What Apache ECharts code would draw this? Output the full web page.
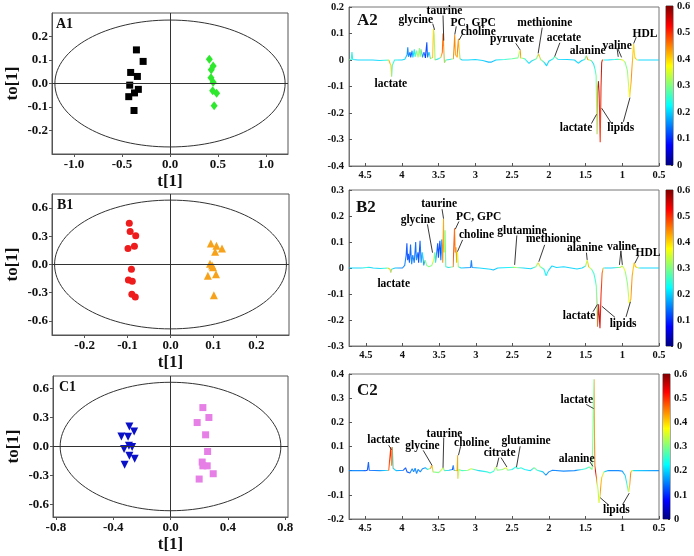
<!DOCTYPE html>
<html><head><meta charset="utf-8">
<script src="https://cdn.jsdelivr.net/npm/echarts@6/dist/echarts.min.js"></script>
<style>html,body{margin:0;padding:0;background:#fff}#c{width:694px;height:556px}</style>
</head><body><div id="c"></div>
<script>
// ---------------- DATA ----------------
// A1 scores
const a1BlackT  = [-0.35,-0.28,-0.41,-0.34,-0.42,-0.33,-0.37,-0.43,-0.375];
const a1BlackTo = [0.143,0.094,0.047,0.03,-0.007,-0.025,-0.04,-0.056,-0.115];
const a1GreenT  = [0.41,0.45,0.43,0.427,0.45,0.445,0.486,0.46];
const a1GreenTo = [0.103,0.075,0.059,0.025,0.005,-0.031,-0.042,-0.095];
// B1 scores
const b1RedT  = [-0.096,-0.094,-0.081,-0.084,-0.099,-0.091,-0.098,-0.089,-0.09,-0.082];
const b1RedTo = [0.44,0.35,0.305,0.195,0.171,-0.05,-0.164,-0.178,-0.317,-0.346];
const b1OrangeT  = [0.094,0.107,0.12,0.104,0.092,0.099,0.097,0.087,0.106,0.101];
const b1OrangeTo = [0.224,0.199,0.171,0.135,0.007,-0.028,-0.01,-0.121,-0.104,-0.328];
// C1 scores
const c1BlueT  = [-0.287,-0.254,-0.343,-0.296,-0.29,-0.324,-0.268,-0.287,-0.25,-0.32];
const c1BlueTo = [0.207,0.155,0.103,0.1,0.007,-0.027,-0.006,-0.096,-0.127,-0.19];
const c1PinkT  = [0.226,0.268,0.186,0.245,0.259,0.221,0.226,0.256,0.298,0.2];
const c1PinkTo = [0.403,0.3,0.248,0.121,-0.052,-0.161,-0.2,-0.2,-0.282,-0.337];
// confidence ellipse semi-axes [t, to]
const a1Ellipse = [1.2, 0.27];
const b1Ellipse = [0.27, 0.685];
const c1Ellipse = [0.77, 0.665];
// score tick labels
const a1XTicks = [-1, -0.5, 0, 0.5, 1];
const a1YTicks = [-0.2, -0.1, 0, 0.1, 0.2];
const b1XTicks = [-0.2, -0.1, 0, 0.1, 0.2];
const b1YTicks = [-0.6, -0.3, 0, 0.3, 0.6];
const c1XTicks = [-0.8, -0.4, 0, 0.4, 0.8];
const c1YTicks = [-0.6, -0.3, 0, 0.3, 0.6];

// A2 loadings: ppm, loading, |r|
const a2Ppm  = [4.72,4.69,4.68,4.67,4.60,4.40,4.30,4.18,4.15,4.14,4.13,4.10,4.00,3.96,3.93,3.92,3.91,3.89,3.88,3.86,3.85,3.83,3.82,3.80,3.78,3.76,3.75,3.74,3.72,3.70,3.68,3.66,3.65,3.63,3.61,3.58,3.57,3.56,3.55,3.50,3.47,3.45,3.44,3.43,3.42,3.40,3.35,3.30,3.28,3.27,3.25,3.23,3.21,3.18,3.10,3.00,2.90,2.82,2.78,2.72,2.60,2.50,2.42,2.40,2.39,2.38,2.33,2.27,2.24,2.17,2.14,2.11,2.06,2.03,2.00,1.94,1.92,1.88,1.75,1.65,1.60,1.55,1.51,1.49,1.47,1.42,1.39,1.37,1.355,1.345,1.335,1.325,1.315,1.30,1.29,1.28,1.27,1.20,1.10,1.06,1.05,1.03,1.01,0.99,0.96,0.93,0.90,0.88,0.86,0.845,0.83,0.80,0.50];
const a2Load = [0,0.002,0.03,0.002,0,0,-0.002,0,-0.02,-0.063,-0.02,0,0,0.003,0.02,0.048,0.012,0.03,0.01,0.035,0.01,0.04,0.012,0.035,0.01,0.045,0.012,0.04,0.01,0.03,0.008,0.067,0.01,0.03,0.005,0.01,0.118,0.095,0,0.005,0.01,0.03,0.1,0.05,-0.01,0,0.002,0.005,0.095,0.02,0.01,0.08,0.005,0,0,0.002,-0.002,-0.008,-0.008,0,0.002,0.005,0.008,0.01,0.038,0.008,0.005,-0.013,-0.005,0.005,0.023,0.002,-0.01,-0.022,-0.005,0.005,0.013,0.003,0.002,0,-0.012,-0.002,0.002,0.016,0.002,-0.003,-0.015,-0.035,-0.06,-0.28,-0.1,-0.08,-0.12,-0.31,-0.1,-0.01,0,0,0.002,0.003,0.01,0.002,0.008,0,-0.01,-0.04,-0.14,-0.08,0,0.06,0.01,0,0];
const a2Corr = [0.2,0.25,0.3,0.25,0.2,0.2,0.2,0.25,0.4,0.45,0.4,0.25,0.2,0.2,0.2,0.2,0.15,0.15,0.15,0.12,0.12,0.2,0.2,0.25,0.3,0.35,0.3,0.3,0.3,0.15,0.15,0.08,0.1,0.15,0.2,0.35,0.42,0.42,0.35,0.2,0.25,0.42,0.47,0.47,0.45,0.3,0.2,0.3,0.47,0.45,0.4,0.47,0.4,0.2,0.2,0.2,0.2,0.18,0.18,0.2,0.25,0.28,0.3,0.35,0.45,0.35,0.25,0.2,0.2,0.3,0.42,0.3,0.2,0.2,0.2,0.25,0.3,0.2,0.2,0.2,0.2,0.2,0.3,0.45,0.35,0.2,0.25,0.3,0.45,0.58,0.55,0.5,0.5,0.58,0.5,0.3,0.22,0.2,0.25,0.3,0.4,0.3,0.38,0.3,0.3,0.38,0.45,0.4,0.4,0.42,0.35,0.2,0.2];

// B2 loadings
const b2Ppm  = [4.73,4.55,4.46,4.40,4.30,4.20,4.17,4.16,4.15,4.10,4.00,3.97,3.95,3.94,3.93,3.92,3.905,3.89,3.875,3.86,3.84,3.82,3.81,3.79,3.78,3.76,3.745,3.73,3.71,3.69,3.67,3.64,3.60,3.575,3.56,3.55,3.53,3.52,3.51,3.49,3.475,3.465,3.45,3.44,3.43,3.42,3.41,3.37,3.31,3.29,3.28,3.27,3.26,3.25,3.24,3.20,3.07,3.06,3.05,2.95,2.80,2.76,2.70,2.55,2.48,2.47,2.45,2.35,2.25,2.18,2.15,2.12,2.07,2.04,2.01,1.96,1.90,1.80,1.70,1.62,1.55,1.50,1.48,1.46,1.42,1.39,1.37,1.355,1.34,1.325,1.305,1.29,1.275,1.26,1.15,1.06,1.045,1.03,1.00,0.98,0.96,0.93,0.905,0.885,0.865,0.84,0.82,0.78,0.50];
const b2Load = [0,0,0.003,0,-0.002,0,-0.005,-0.018,-0.005,0,0,0.01,0.05,0.095,0.03,0.055,0.02,0.09,0.015,0.05,0.02,0.1,0.03,0.06,0.02,0.105,0.02,0.06,0.01,0.03,0.01,0.005,0.01,0.03,0.06,0.02,0.07,0.095,0.04,0.105,0.03,0.11,0.02,0.19,0.06,0.145,0.005,0.002,0.005,0.153,0.06,0.08,0.02,0.063,0.005,0,0.002,0.03,0.002,0,-0.005,-0.008,0,0.002,0.003,0.008,0.002,0,-0.003,0.005,0.02,0.005,-0.005,-0.03,-0.01,0.008,0.002,0.005,0,-0.004,0,0.008,0.03,0.005,-0.005,-0.02,-0.045,-0.07,-0.226,-0.14,-0.232,-0.1,-0.02,0,0,0.002,0.008,0.002,0.008,0,-0.015,-0.06,-0.136,-0.12,-0.03,0.02,0.005,0,0];
const b2Corr = [0.2,0.2,0.25,0.2,0.2,0.25,0.35,0.45,0.4,0.2,0.15,0.15,0.15,0.15,0.12,0.12,0.12,0.12,0.12,0.15,0.15,0.15,0.12,0.15,0.15,0.1,0.12,0.15,0.2,0.15,0.3,0.3,0.3,0.32,0.38,0.3,0.2,0.15,0.12,0.1,0.12,0.1,0.2,0.45,0.45,0.38,0.3,0.2,0.3,0.5,0.47,0.47,0.4,0.45,0.35,0.2,0.15,0.12,0.15,0.2,0.2,0.18,0.2,0.22,0.3,0.35,0.3,0.2,0.2,0.3,0.4,0.3,0.22,0.22,0.2,0.2,0.2,0.2,0.2,0.2,0.2,0.35,0.42,0.35,0.25,0.25,0.3,0.5,0.58,0.55,0.5,0.45,0.3,0.2,0.2,0.3,0.4,0.3,0.38,0.3,0.3,0.38,0.45,0.42,0.4,0.42,0.35,0.2,0.2];

// C2 loadings
const c2Ppm  = [4.72,4.50,4.47,4.455,4.445,4.30,4.18,4.16,4.15,4.14,4.13,4.12,4.08,3.98,3.95,3.93,3.91,3.89,3.86,3.84,3.82,3.80,3.78,3.75,3.72,3.68,3.65,3.61,3.59,3.575,3.55,3.50,3.47,3.44,3.42,3.36,3.31,3.30,3.29,3.25,3.24,3.235,3.225,3.18,3.10,3.06,3.05,3.04,2.95,2.84,2.80,2.75,2.72,2.70,2.63,2.58,2.56,2.50,2.45,2.42,2.38,2.33,2.25,2.20,2.16,2.08,2.04,2.00,1.95,1.80,1.65,1.55,1.50,1.45,1.41,1.395,1.385,1.375,1.36,1.35,1.33,1.315,1.30,1.28,1.25,1.20,1.05,1.00,0.96,0.94,0.915,0.90,0.885,0.87,0.50];
const c2Load = [0,0,0.002,0.036,0.002,0,0.002,0.01,0.098,0.02,0.098,0.01,0,0.002,0.012,-0.005,0.002,-0.01,0.008,-0.005,0.01,-0.012,0.005,-0.005,0.008,0.012,0.005,0.01,0.022,-0.005,-0.01,-0.008,0,0.012,0,0.002,0.005,0.022,0.002,0,0.064,-0.033,0.005,0,0.002,0.008,0.015,0.003,0,-0.005,-0.01,-0.002,0.015,0.002,0.005,0.012,0.002,0.005,0.015,0.008,0.012,0.005,0,0.012,0.002,-0.005,-0.019,-0.005,0.002,-0.002,0,0.005,0.008,0.015,0.005,0.01,0.378,0.02,-0.01,-0.03,-0.08,-0.134,-0.09,-0.03,-0.005,0,0,-0.002,-0.02,-0.05,-0.089,-0.06,-0.01,0,0];
const c2Corr = [0.15,0.15,0.12,0.1,0.12,0.15,0.2,0.45,0.5,0.5,0.52,0.45,0.2,0.15,0.12,0.12,0.12,0.12,0.15,0.15,0.15,0.15,0.15,0.15,0.15,0.15,0.2,0.3,0.45,0.42,0.3,0.3,0.3,0.38,0.3,0.2,0.15,0.1,0.15,0.35,0.48,0.45,0.35,0.25,0.3,0.35,0.38,0.3,0.2,0.25,0.25,0.25,0.35,0.3,0.3,0.38,0.3,0.22,0.25,0.25,0.25,0.22,0.2,0.3,0.25,0.18,0.15,0.15,0.15,0.15,0.15,0.25,0.25,0.3,0.3,0.45,0.55,0.5,0.35,0.3,0.38,0.45,0.4,0.35,0.2,0.15,0.15,0.18,0.25,0.35,0.45,0.4,0.3,0.2,0.15];

// loading plot ticks
const ppmTicks = [4.5, 4, 3.5, 3, 2.5, 2, 1.5, 1, 0.5];
const a2YTicks = [-0.4,-0.3,-0.2,-0.1,0,0.1,0.2];
const b2YTicks = [-0.3,-0.2,-0.1,0,0.1,0.2,0.3];
const c2YTicks = [-0.2,-0.1,0,0.1,0.2,0.3,0.4];
const cbTicks  = [0,0.1,0.2,0.3,0.4,0.5,0.6];

// annotations: [text, ppm, loading]
const a2Notes = [['lactate',4.15,-0.091],['glycine',3.81,0.149],['taurine',3.42,0.184],['PC, GPC',3.03,0.139],['choline',2.96,0.105],['pyruvate',2.5,0.08],['methionine',2.055,0.139],['acetate',1.795,0.082],['alanine',1.47,0.035],['valine',1.07,0.054],['HDL',0.69,0.099],['lactate',1.63,-0.256],['lipids',1.02,-0.256]];
const a2Leaders = [[3.58,0.137,3.555,0.114],[3.44,0.168,3.43,0.073],[3.26,0.127,3.28,0.096],[3.17,0.101,3.22,0.076],[2.45,0.063,2.39,0.038],[2.09,0.122,2.145,0.025],[1.85,0.065,1.92,0.013],[1.07,0.043,1.055,0.012],[1.06,0.043,1.01,0.01],[0.81,0.086,0.845,0.062],[1.42,-0.24,1.35,-0.205],[1.145,-0.24,1.28,-0.182],[0.985,-0.233,0.895,-0.142]];
const b2Notes = [['lactate',4.12,-0.062],['glycine',3.79,0.183],['taurine',3.5,0.245],['PC, GPC',2.96,0.195],['choline',2.99,0.127],['glutamine',2.37,0.143],['methionine',1.94,0.11],['alanine',1.51,0.076],['valine',1.01,0.082],['HDL',0.65,0.059],['lactate',1.59,-0.185],['lipids',0.99,-0.216]];
const b2Leaders = [[3.66,0.168,3.59,0.059],[3.46,0.226,3.44,0.19],[3.23,0.179,3.28,0.149],[3.18,0.108,3.25,0.063],[2.44,0.125,2.47,0.012],[2.06,0.089,2.14,0.024],[1.49,0.059,1.48,0.031],[1.02,0.066,1.04,0.012],[1.02,0.066,1.0,0.012],[0.78,0.046,0.83,0.018],[1.4,-0.168,1.34,-0.14],[1.1,-0.19,1.28,-0.147],[0.95,-0.188,0.89,-0.13]];
const c2Notes = [['lactate',4.25,0.126],['glycine',3.72,0.101],['taurine',3.42,0.151],['choline',3.05,0.115],['citrate',2.67,0.071],['glutamine',2.31,0.123],['lactate',1.62,0.292],['alanine',1.62,0.048],['lipids',1.08,-0.162]];
const c2Leaders = [[4.18,0.105,4.14,0.087],[3.71,0.084,3.59,0.022],[3.43,0.137,3.44,0.012],[3.2,0.101,3.23,0.064],[2.68,0.054,2.71,0.015],[2.65,0.054,2.57,0.015],[2.39,0.101,2.44,0.015],[1.49,0.274,1.39,0.257],[1.44,0.036,1.4,0.018],[1.19,-0.141,1.3,-0.112],[0.995,-0.14,0.905,-0.093]];

// ---------------- RENDER ----------------
const FONT = 'Liberation Serif';
const JET = [[0,[0,0,128]],[0.125,[0,0,255]],[0.375,[0,255,255]],[0.625,[255,255,0]],[0.875,[255,0,0]],[1,[128,0,0]]];
function jet(v){
  const t = Math.max(0, Math.min(1, v/0.6));
  for (let i=1;i<JET.length;i++){
    if (t<=JET[i][0]){
      const a=JET[i-1], b=JET[i], f=(t-a[0])/(b[0]-a[0]);
      const c=a[1].map((x,k)=>Math.round(x+(b[1][k]-x)*f));
      return 'rgb('+c.join(',')+')';
    }
  }
  return 'rgb(128,0,0)';
}
function zip(a,b){return a.map((v,i)=>[v,b[i]]);}
function lineGradient(ppm, corr){
  const p0=ppm[0], pn=ppm[ppm.length-1];
  const stops = ppm.map((p,i)=>({offset:(p0-p)/(p0-pn), color:jet(corr[i])}));
  return new echarts.graphic.LinearGradient(0,0,1,0,stops);
}
const cbGradient = new echarts.graphic.LinearGradient(0,0,0,1, JET.slice().reverse().map(s=>({offset:1-s[0], color:'rgb('+s[1].join(',')+')'})));

const grids=[], xAxes=[], yAxes=[], series=[], titles=[];
const boldText = (size)=>({fontFamily:FONT, fontWeight:'bold', fontSize:size, color:'#111'});

// score panels
const scorePanels = [
  {g:{left:52,top:13,width:236,height:141}, xr:1.23, yr:0.3, xt:a1XTicks, yt:a1YTicks, ell:a1Ellipse, label:'A1', lx:56, ly:17,
   groups:[{t:a1BlackT,to:a1BlackTo,symbol:'rect',size:7,color:'#000'},{t:a1GreenT,to:a1GreenTo,symbol:'diamond',size:[7,9],color:'#2ee82e'}]},
  {g:{left:52,top:194,width:237,height:141}, xr:0.276, yr:0.75, xt:b1XTicks, yt:b1YTicks, ell:b1Ellipse, label:'B1', lx:57, ly:198,
   groups:[{t:b1RedT,to:b1RedTo,symbol:'circle',size:7,color:'#ee1c1c'},{t:b1OrangeT,to:b1OrangeTo,symbol:'triangle',size:8,color:'#f7a21b'}]},
  {g:{left:53,top:376,width:235,height:141}, xr:0.82, yr:0.73, xt:c1XTicks, yt:c1YTicks, ell:c1Ellipse, label:'C1', lx:59, ly:380,
   groups:[{t:c1BlueT,to:c1BlueTo,symbol:'triangle',rot:180,size:8,color:'#0a10c8'},{t:c1PinkT,to:c1PinkTo,symbol:'rect',size:7,color:'#e67fe6'}]}
];
scorePanels.forEach((P,i)=>{
  grids.push(Object.assign({show:true, borderColor:'#555', borderWidth:1, backgroundColor:'transparent', outerBoundsMode:'none'}, P.g));
  xAxes.push({gridIndex:i, type:'value', min:-P.xr, max:P.xr, name:'t[1]', nameLocation:'middle', nameGap:19,
    nameTextStyle:boldText(17), axisLine:{show:true, onZero:false, lineStyle:{color:'#555'}},
    axisTick:{show:true, length:3, customValues:P.xt, lineStyle:{color:'#555'}},
    axisLabel:Object.assign({customValues:P.xt, margin:4, formatter:v=>v.toFixed(1)}, boldText(13)), splitLine:{show:false}});
  yAxes.push({gridIndex:i, type:'value', min:-P.yr, max:P.yr, name:'to[1]', nameLocation:'middle', nameGap:31,
    nameTextStyle:boldText(17), axisLine:{show:true, onZero:false, lineStyle:{color:'#555'}},
    axisTick:{show:true, length:3, customValues:P.yt, lineStyle:{color:'#555'}},
    axisLabel:Object.assign({customValues:P.yt, margin:4, formatter:v=>v.toFixed(1)}, boldText(13)), splitLine:{show:false}});
  series.push({type:'custom', xAxisIndex:i, yAxisIndex:i, data:[P.ell], silent:true, z:1,
    renderItem:(params, api)=>{
      const c=api.coord([0,0]); const e=api.coord([api.value(0), api.value(1)]);
      return {type:'ellipse', shape:{cx:c[0], cy:c[1], rx:Math.abs(e[0]-c[0]), ry:Math.abs(c[1]-e[1])}, style:{fill:'none', stroke:'#333', lineWidth:1}};
    }});
  P.groups.forEach((G,k)=>{
    const s={type:'scatter', xAxisIndex:i, yAxisIndex:i, data:zip(G.t,G.to), symbol:G.symbol, symbolSize:G.size,
      symbolRotate:G.rot||0, itemStyle:{color:G.color, opacity:1}, z:3, silent:true};
    if(k===0){
      s.markLine={silent:true, symbol:['none','none'], animation:false, label:{show:false},
        lineStyle:{color:'#333', width:1, type:'solid'}, data:[{xAxis:0},{yAxis:0}]};
    }
    series.push(s);
  });
  titles.push({text:P.label, left:P.lx, top:P.ly, padding:0, textStyle:boldText(14)});
});

// loading panels
const loadPanels = [
  {g:{left:349,top:7,width:310,height:159}, ymin:-0.4, ymax:0.2, yt:a2YTicks, ppm:a2Ppm, load:a2Load, corr:a2Corr, notes:a2Notes, leaders:a2Leaders, label:'A2', lx:357, ly:12,
   cb:{left:666,top:6,width:7,height:159}},
  {g:{left:349,top:190,width:310,height:156}, ymin:-0.3, ymax:0.3, yt:b2YTicks, ppm:b2Ppm, load:b2Load, corr:b2Corr, notes:b2Notes, leaders:b2Leaders, label:'B2', lx:356, ly:199,
   cb:{left:666,top:190,width:7,height:156}},
  {g:{left:349,top:374,width:310,height:145}, ymin:-0.2, ymax:0.4, yt:c2YTicks, ppm:c2Ppm, load:c2Load, corr:c2Corr, notes:c2Notes, leaders:c2Leaders, label:'C2', lx:357, ly:382,
   cb:{left:663,top:374,width:7,height:145}}
];
loadPanels.forEach((P,k)=>{
  const gi = 3+k;
  grids.push(Object.assign({show:true, borderColor:'#777', borderWidth:1, backgroundColor:'transparent', outerBoundsMode:'none'}, P.g));
  xAxes.push({gridIndex:gi, type:'value', inverse:true, min:0.5, max:P.ppm[0],
    axisLine:{show:true, onZero:false, lineStyle:{color:'#777'}},
    axisTick:{show:true, inside:true, length:3, customValues:ppmTicks, lineStyle:{color:'#555'}},
    axisLabel:Object.assign({customValues:ppmTicks, margin:4, formatter:v=>String(v)}, boldText(10.5)), splitLine:{show:false}});
  yAxes.push({gridIndex:gi, type:'value', min:P.ymin, max:P.ymax,
    axisLine:{show:true, onZero:false, lineStyle:{color:'#777'}},
    axisTick:{show:true, inside:true, length:3, customValues:P.yt, lineStyle:{color:'#555'}},
    axisLabel:Object.assign({customValues:P.yt, margin:5, formatter:v=>String(v)}, boldText(10.5)), splitLine:{show:false}});
  series.push({type:'line', xAxisIndex:gi, yAxisIndex:gi, data:zip(P.ppm,P.load), symbol:'none', showSymbol:false,
    silent:true, z:3, lineStyle:{width:1.1, opacity:0.9, color:lineGradient(P.ppm,P.corr)}});
  series.push({type:'scatter', xAxisIndex:gi, yAxisIndex:gi, symbolSize:0, silent:true, z:5,
    itemStyle:{opacity:1},
    data:P.notes.map(n=>({name:n[0], value:[n[1],n[2]]})),
    label:Object.assign({show:true, position:'inside', formatter:'{b}'}, boldText(11.5), {color:'#000', opacity:1}),
    markLine:{silent:true, symbol:['none','none'], animation:false, label:{show:false},
      lineStyle:{color:'#222', width:0.9, type:'solid', opacity:1},
      data:P.leaders.map(l=>[{coord:[l[0],l[1]]},{coord:[l[2],l[3]]}])}});
  titles.push({text:P.label, left:P.lx, top:P.ly, padding:0, textStyle:boldText(17)});
});

// colorbars
loadPanels.forEach((P,k)=>{
  const gi = 6+k;
  grids.push(Object.assign({show:true, borderColor:'#555', borderWidth:1, backgroundColor:'transparent', outerBoundsMode:'none'}, P.cb));
  xAxes.push({gridIndex:gi, type:'category', data:['r'], show:false, boundaryGap:true});
  yAxes.push({gridIndex:gi, type:'value', position:'right', min:0, max:0.6,
    axisLine:{show:false}, axisTick:{show:true, inside:true, length:2, customValues:cbTicks, lineStyle:{color:'#333'}},
    axisLabel:Object.assign({customValues:cbTicks, margin:4, formatter:v=>String(v)}, boldText(10.5)), splitLine:{show:false}});
  series.push({type:'bar', xAxisIndex:gi, yAxisIndex:gi, data:[0.6], barWidth:'100%', silent:true, z:1,
    itemStyle:{color:cbGradient}});
});

const chart = echarts.init(document.getElementById('c'), null, {renderer:'canvas'});
chart.setOption({animation:false, backgroundColor:'#fff', title:titles, grid:grids, xAxis:xAxes, yAxis:yAxes, series:series, tooltip:{show:false}});
</script></body></html>
